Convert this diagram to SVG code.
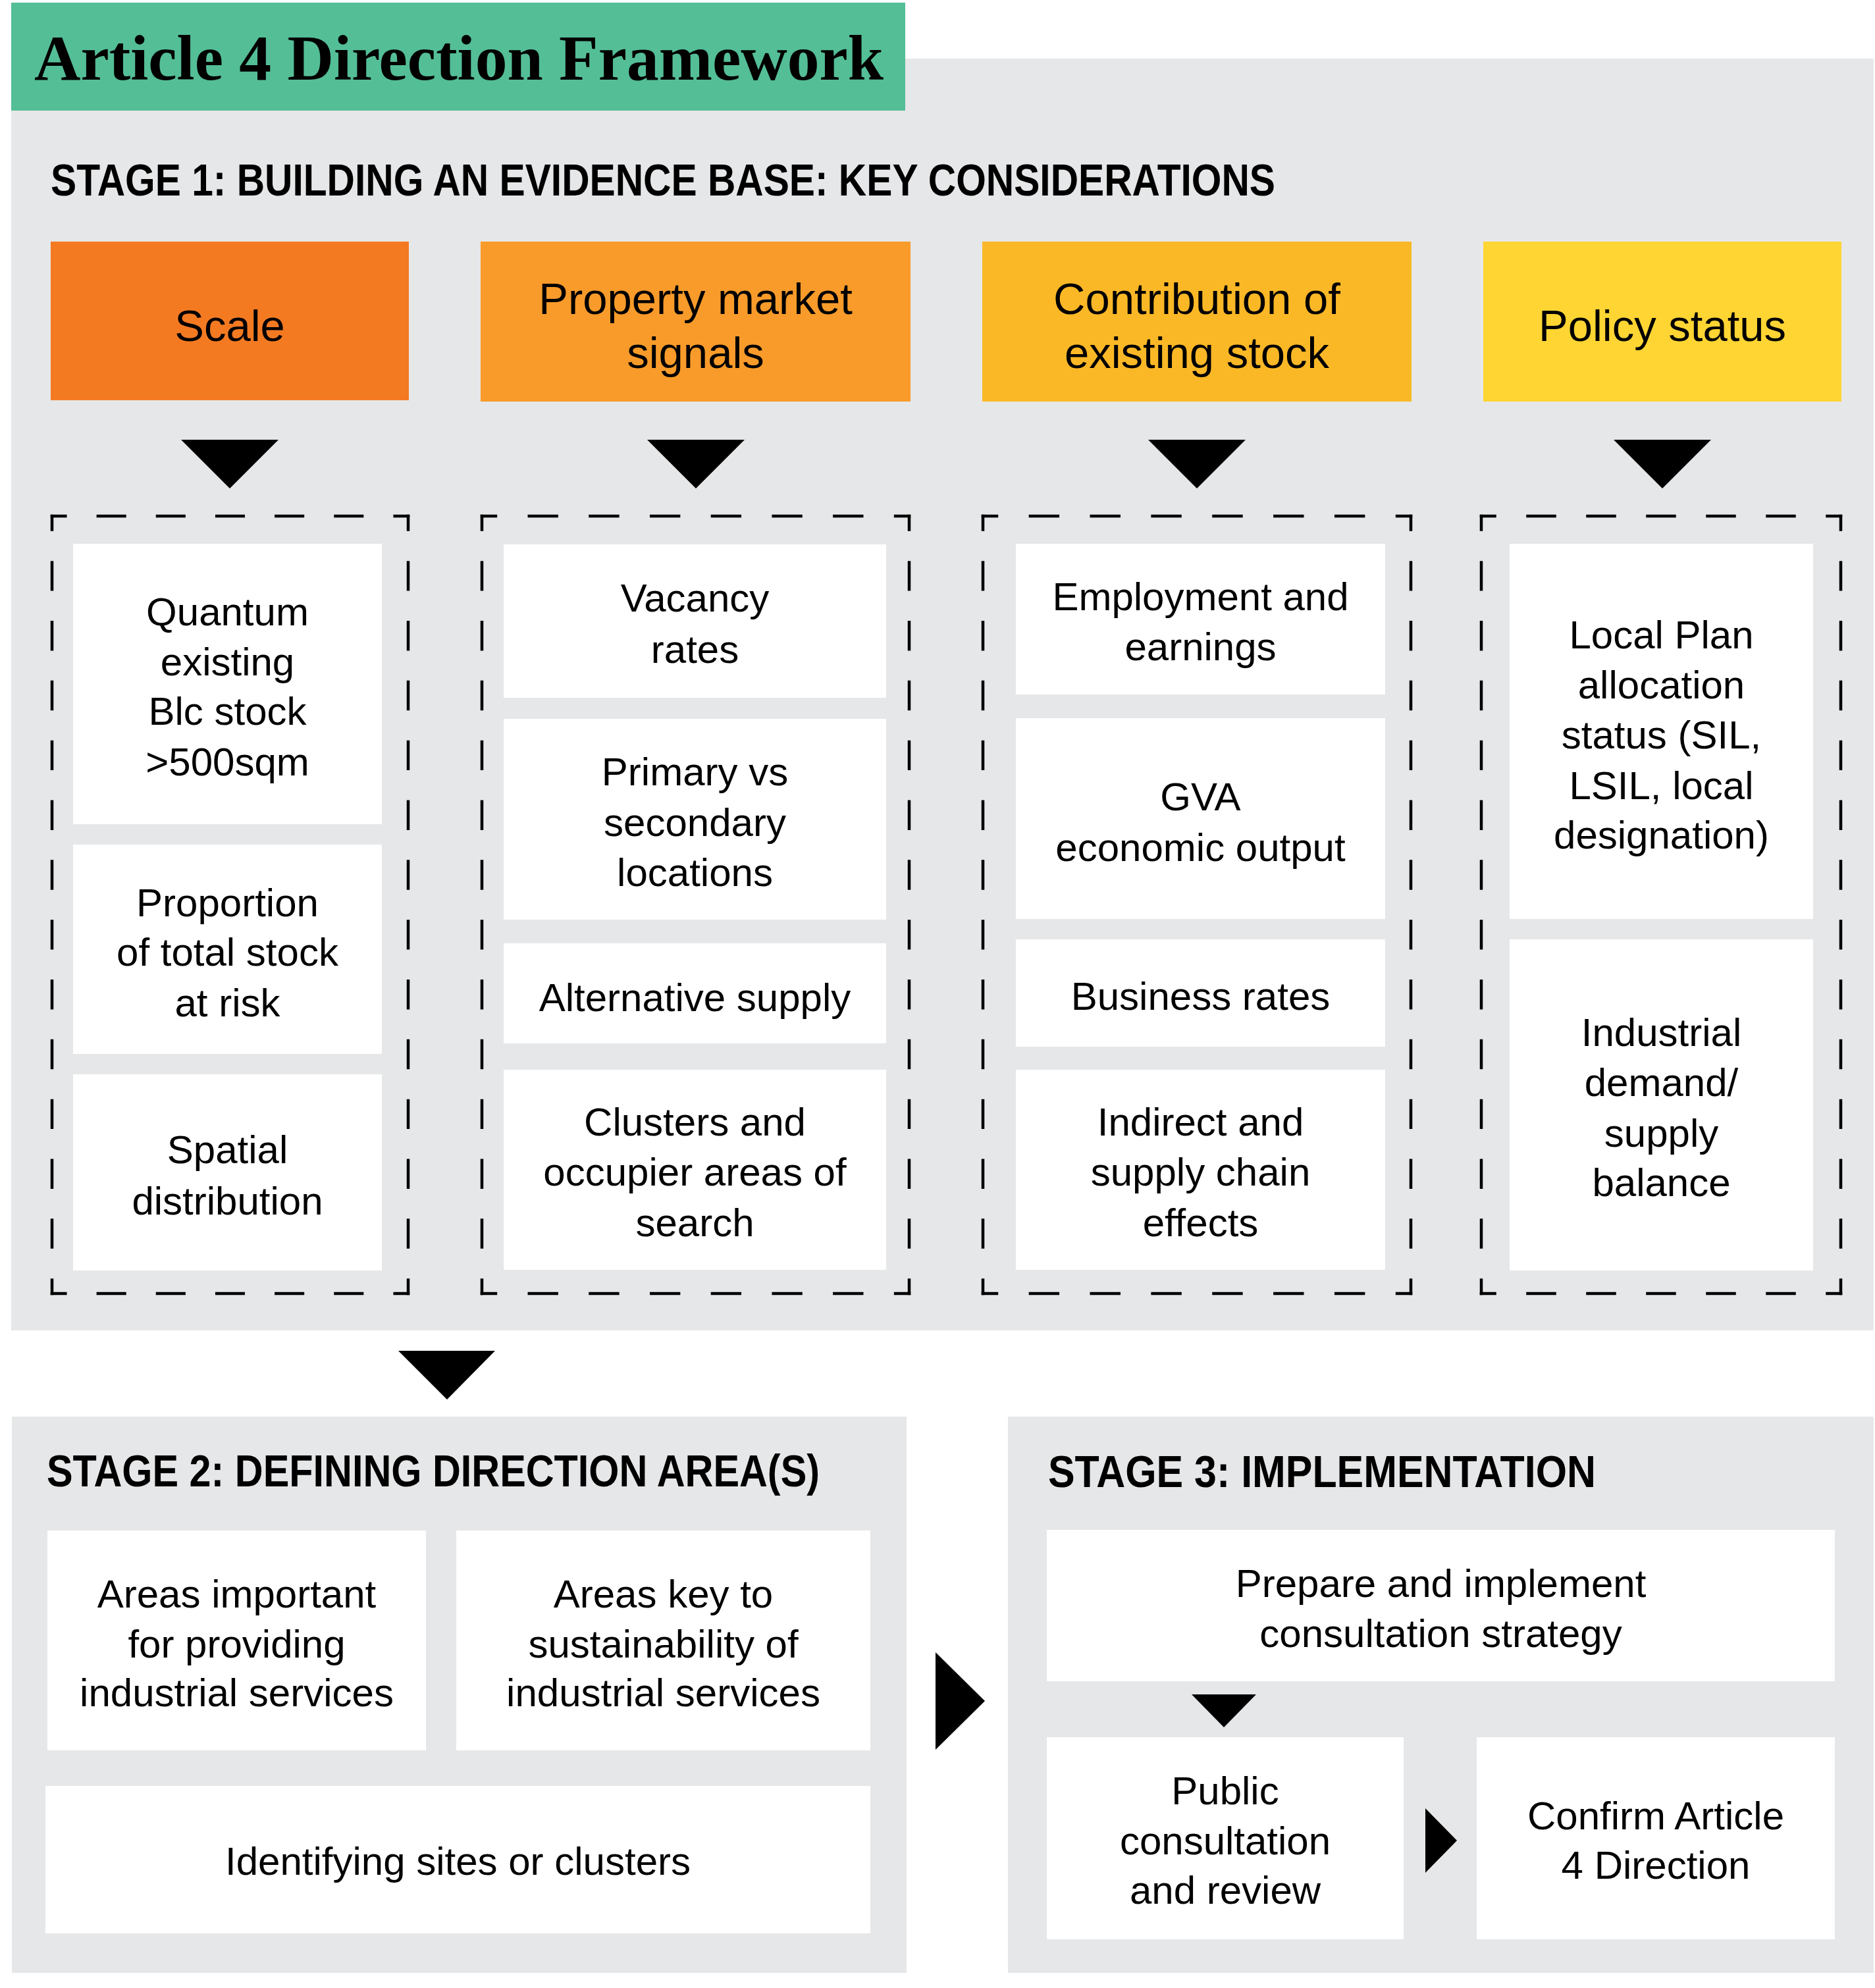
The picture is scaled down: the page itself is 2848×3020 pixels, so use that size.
<svg xmlns="http://www.w3.org/2000/svg" width="2848" height="3020" viewBox="0 0 2848 3020">
<style>
.panel{fill:#E6E7E8}
.box{fill:#FFFFFF}
.t{font-family:'Liberation Sans',Arial,sans-serif;font-size:60px;fill:#000;text-anchor:middle}
.h{font-family:'Liberation Sans',Arial,sans-serif;font-size:67px;fill:#000;text-anchor:middle}
.st{font-family:'Liberation Sans',Arial,sans-serif;font-size:68px;font-weight:bold;fill:#000}
.tri{fill:#000}
.dash{stroke:#000;stroke-width:4.5;fill:none;stroke-linecap:square}
.dh1{stroke-dasharray:40.58 49.58;stroke-dashoffset:20.29}
.dh2{stroke-dasharray:41.86 50.86;stroke-dashoffset:20.93}
.dh3{stroke-dasharray:41.93 50.93;stroke-dashoffset:20.96}
.dh4{stroke-dasharray:41 50;stroke-dashoffset:20.5}
.dv{stroke-dasharray:40.92 49.92;stroke-dashoffset:20.46}
</style>
<rect width="2848" height="3020" fill="#FFFFFF"/>

<g id="stage1-panel">
<rect class="panel" x="17" y="89" width="2829" height="1932"/>
</g>
<g id="title">
<rect x="17" y="4" width="1358" height="164" fill="#54BE97"/>
<text x="52" y="121" font-family="'Liberation Serif','Times New Roman',serif" font-size="97" font-weight="bold" fill="#000" textLength="1290" lengthAdjust="spacingAndGlyphs">Article 4 Direction Framework</text>
</g>
<g id="stage1-heading">
<text class="st" x="77" y="297" textLength="1860" lengthAdjust="spacingAndGlyphs">STAGE 1: BUILDING AN EVIDENCE BASE: KEY CONSIDERATIONS</text>
</g>

<g id="scale">
<rect x="77" y="367" width="544" height="241" fill="#F47A22"/>
<text class="h" x="349" y="518">Scale</text>
</g>
<g id="property">
<rect x="730" y="367" width="653" height="243" fill="#F89B2A"/>
<text class="h" x="1056.5" y="477">Property market</text>
<text class="h" x="1056.5" y="559">signals</text>
</g>
<g id="contribution">
<rect x="1492" y="367" width="652" height="243" fill="#FBB826"/>
<text class="h" x="1818" y="477">Contribution of</text>
<text class="h" x="1818" y="559">existing stock</text>
</g>
<g id="policy">
<rect x="2253" y="367" width="544" height="243" fill="#FFD533"/>
<text class="h" x="2525" y="518">Policy status</text>
</g>

<g id="scale-group">
<line class="dash dh1" x1="79" y1="784" x2="620" y2="784"/>
<line class="dash dh1" x1="79" y1="1965" x2="620" y2="1965"/>
<line class="dash dv" x1="79" y1="784" x2="79" y2="1965"/>
<line class="dash dv" x1="620" y1="784" x2="620" y2="1965"/>
</g>
<g id="quantum">
<rect class="box" x="111" y="826" width="469" height="426"/>
<text class="t" x="345.5" y="950">Quantum</text>
<text class="t" x="345.5" y="1026">existing</text>
<text class="t" x="345.5" y="1101">Blc stock</text>
<text class="t" x="345.5" y="1178">&gt;500sqm</text>
</g>
<g id="proportion">
<rect class="box" x="111" y="1283" width="469" height="318"/>
<text class="t" x="345.5" y="1392">Proportion</text>
<text class="t" x="345.5" y="1467">of total stock</text>
<text class="t" x="345.5" y="1544">at risk</text>
</g>
<g id="spatial">
<rect class="box" x="111" y="1632" width="469" height="298"/>
<text class="t" x="345.5" y="1767">Spatial</text>
<text class="t" x="345.5" y="1845">distribution</text>
</g>

<g id="property-group">
<line class="dash dh2" x1="732" y1="784" x2="1381" y2="784"/>
<line class="dash dh2" x1="732" y1="1965" x2="1381" y2="1965"/>
<line class="dash dv" x1="732" y1="784" x2="732" y2="1965"/>
<line class="dash dv" x1="1381" y1="784" x2="1381" y2="1965"/>
</g>
<g id="vacancy">
<rect class="box" x="765" y="827" width="581" height="233"/>
<text class="t" x="1055.5" y="929">Vacancy</text>
<text class="t" x="1055.5" y="1007">rates</text>
</g>
<g id="primary">
<rect class="box" x="765" y="1092" width="581" height="305"/>
<text class="t" x="1055.5" y="1193">Primary vs</text>
<text class="t" x="1055.5" y="1270">secondary</text>
<text class="t" x="1055.5" y="1346">locations</text>
</g>
<g id="alternative">
<rect class="box" x="765" y="1433" width="581" height="152"/>
<text class="t" x="1055.5" y="1536">Alternative supply</text>
</g>
<g id="clusters">
<rect class="box" x="765" y="1625" width="581" height="304"/>
<text class="t" x="1055.5" y="1725">Clusters and</text>
<text class="t" x="1055.5" y="1801">occupier areas of</text>
<text class="t" x="1055.5" y="1878">search</text>
</g>

<g id="contribution-group">
<line class="dash dh3" x1="1493" y1="784" x2="2143" y2="784"/>
<line class="dash dh3" x1="1493" y1="1965" x2="2143" y2="1965"/>
<line class="dash dv" x1="1493" y1="784" x2="1493" y2="1965"/>
<line class="dash dv" x1="2143" y1="784" x2="2143" y2="1965"/>
</g>
<g id="employment">
<rect class="box" x="1543" y="826" width="561" height="229"/>
<text class="t" x="1823.5" y="927">Employment and</text>
<text class="t" x="1823.5" y="1003">earnings</text>
</g>
<g id="gva">
<rect class="box" x="1543" y="1091" width="561" height="305"/>
<text class="t" x="1823.5" y="1231">GVA</text>
<text class="t" x="1823.5" y="1308">economic output</text>
</g>
<g id="business">
<rect class="box" x="1543" y="1427" width="561" height="163"/>
<text class="t" x="1823.5" y="1534">Business rates</text>
</g>
<g id="indirect">
<rect class="box" x="1543" y="1625" width="561" height="304"/>
<text class="t" x="1823.5" y="1725">Indirect and</text>
<text class="t" x="1823.5" y="1801">supply chain</text>
<text class="t" x="1823.5" y="1878">effects</text>
</g>

<g id="policy-group">
<line class="dash dh4" x1="2250" y1="784" x2="2796" y2="784"/>
<line class="dash dh4" x1="2250" y1="1965" x2="2796" y2="1965"/>
<line class="dash dv" x1="2250" y1="784" x2="2250" y2="1965"/>
<line class="dash dv" x1="2796" y1="784" x2="2796" y2="1965"/>
</g>
<g id="localplan">
<rect class="box" x="2293" y="826" width="461" height="570"/>
<text class="t" x="2523.5" y="985">Local Plan</text>
<text class="t" x="2523.5" y="1061">allocation</text>
<text class="t" x="2523.5" y="1137">status (SIL,</text>
<text class="t" x="2523.5" y="1214">LSIL, local</text>
<text class="t" x="2523.5" y="1289">designation)</text>
</g>
<g id="industrial">
<rect class="box" x="2293" y="1427" width="461" height="503"/>
<text class="t" x="2523.5" y="1589">Industrial</text>
<text class="t" x="2523.5" y="1665">demand/</text>
<text class="t" x="2523.5" y="1742">supply</text>
<text class="t" x="2523.5" y="1817">balance</text>
</g>

<g id="stage2">
<rect class="panel" x="18" y="2152" width="1359" height="845"/>
<text class="st" x="71" y="2258" textLength="1174" lengthAdjust="spacingAndGlyphs">STAGE 2: DEFINING DIRECTION AREA(S)</text>
</g>
<g id="areas-important">
<rect class="box" x="72" y="2325" width="575" height="334"/>
<text class="t" x="359.5" y="2442">Areas important</text>
<text class="t" x="359.5" y="2518">for providing</text>
<text class="t" x="359.5" y="2592">industrial services</text>
</g>
<g id="areas-key">
<rect class="box" x="693" y="2325" width="629" height="334"/>
<text class="t" x="1007.5" y="2442">Areas key to</text>
<text class="t" x="1007.5" y="2518">sustainability of</text>
<text class="t" x="1007.5" y="2592">industrial services</text>
</g>
<g id="identifying">
<rect class="box" x="69" y="2713" width="1253" height="224"/>
<text class="t" x="695.5" y="2848">Identifying sites or clusters</text>
</g>

<g id="stage3">
<rect class="panel" x="1531" y="2152" width="1315" height="845"/>
<text class="st" x="1592" y="2259" textLength="832" lengthAdjust="spacingAndGlyphs">STAGE 3: IMPLEMENTATION</text>
</g>
<g id="prepare">
<rect class="box" x="1590" y="2324" width="1197" height="230"/>
<text class="t" x="2188.5" y="2426">Prepare and implement</text>
<text class="t" x="2188.5" y="2502">consultation strategy</text>
</g>
<g id="public">
<rect class="box" x="1590" y="2639" width="542" height="307"/>
<text class="t" x="1861" y="2741">Public</text>
<text class="t" x="1861" y="2817">consultation</text>
<text class="t" x="1861" y="2892">and review</text>
</g>
<g id="confirm">
<rect class="box" x="2243" y="2639" width="544" height="307"/>
<text class="t" x="2515" y="2779">Confirm Article</text>
<text class="t" x="2515" y="2854">4 Direction</text>
</g>

<g id="connectors">
<polygon class="tri" points="275,668 423,668 349,742"/>
<polygon class="tri" points="983,668 1131,668 1057,742"/>
<polygon class="tri" points="1744,668 1892,668 1818,742"/>
<polygon class="tri" points="2451,668 2599,668 2525,742"/>
<polygon class="tri" points="605,2052 752,2052 679,2126"/>
<polygon class="tri" points="1421,2510 1421,2658 1496,2584"/>
<polygon class="tri" points="1810,2574 1908,2574 1859,2624"/>
<polygon class="tri" points="2165,2747 2165,2845 2213,2796"/>
</g>
</svg>
